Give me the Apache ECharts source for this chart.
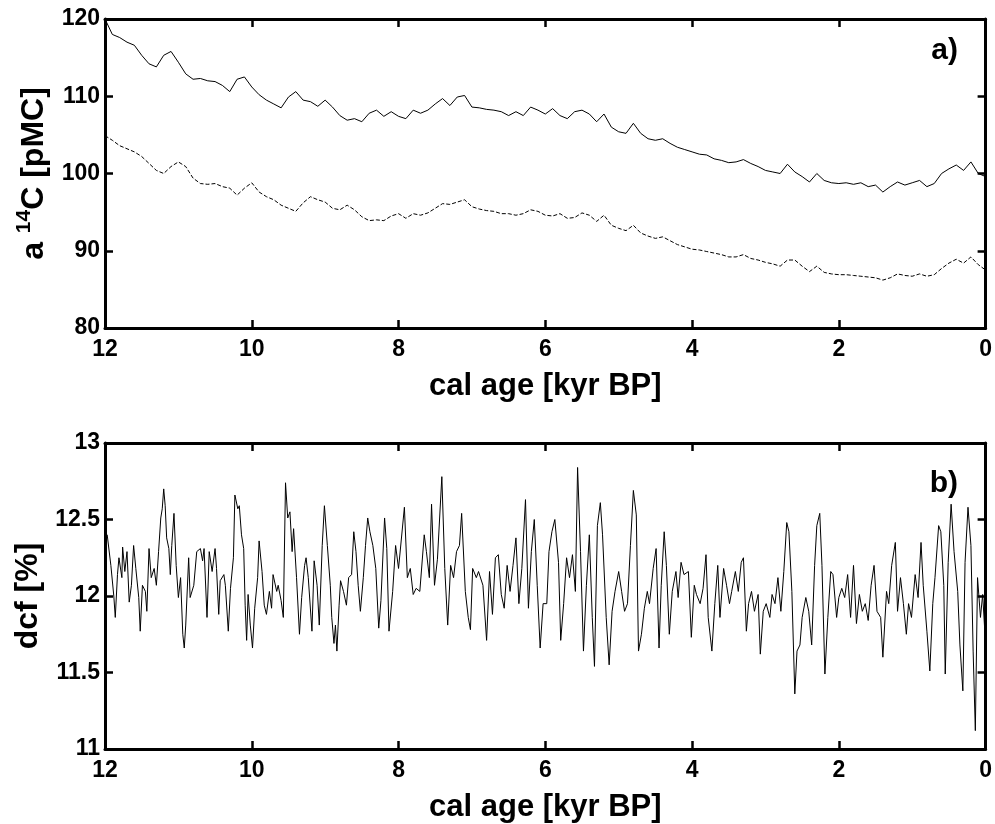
<!DOCTYPE html>
<html>
<head>
<meta charset="utf-8">
<script src="https://cdn.jsdelivr.net/npm/echarts@6/dist/echarts.min.js"></script>
<style>
html, body { margin: 0; padding: 0; background: #fff; }
#main { width: 995px; height: 824px; }
</style>
</head>
<body>
<div id="main"></div>
<script>
// panel a) : 14C activity, solid and dashed curve, 0.1 kyr steps
var ageA = [12.0,11.9,11.8,11.7,11.6,11.5,11.4,11.3,11.2,11.1,
            11.0,10.9,10.8,10.7,10.6,10.5,10.4,10.3,10.2,10.1,
            10.0,9.9,9.8,9.7,9.6,9.5,9.4,9.3,9.2,9.1,
            9.0,8.9,8.8,8.7,8.6,8.5,8.4,8.3,8.2,8.1,
            8.0,7.9,7.8,7.7,7.6,7.5,7.4,7.3,7.2,7.1,
            7.0,6.9,6.8,6.7,6.6,6.5,6.4,6.3,6.2,6.1,
            6.0,5.9,5.8,5.7,5.6,5.5,5.4,5.3,5.2,5.1,
            5.0,4.9,4.8,4.7,4.6,4.5,4.4,4.3,4.2,4.1,
            4.0,3.9,3.8,3.7,3.6,3.5,3.4,3.3,3.2,3.1,
            3.0,2.9,2.8,2.7,2.6,2.5,2.4,2.3,2.2,2.1,
            2.0,1.9,1.8,1.7,1.6,1.5,1.4,1.3,1.2,1.1,
            1.0,0.9,0.8,0.7,0.6,0.5,0.4,0.3,0.2,0.1,0.0];
var pmcSolid = [120,118,117.6,117,116.6,115.3,114.2,113.8,115.3,115.8,
                114.4,112.9,112.2,112.3,112,111.9,111.4,110.6,112.2,112.5,
                111.2,110.2,109.5,109,108.5,109.9,110.6,109.5,109.3,108.7,
                109.5,108.6,107.5,106.9,107.1,106.7,107.8,108.2,107.4,108,
                107.4,107.1,108.2,107.8,108.2,109,109.7,108.8,109.9,110.1,
                108.6,108.5,108.3,108.2,108,107.5,108,107.5,108.6,108.2,
                107.7,108.4,107.5,107.1,108,108.2,107.7,106.7,107.7,106,
                105.4,105.2,106.5,105.2,104.5,104.3,104.5,103.9,103.4,103.1,
                102.8,102.5,102.4,101.9,101.7,101.4,101.5,101.8,101.3,100.9,
                100.4,100.2,100,101.2,100.2,99.6,98.9,100,99.1,98.8,
                98.7,98.8,98.6,98.8,98.3,98.5,97.6,98.3,98.9,98.5,
                98.8,99.1,98.3,98.7,100,100.6,101.1,100.4,101.5,100,99.6];
var pmcDashed = [104.9,104.3,103.6,103.2,102.8,102.2,101.3,100.4,100,100.9,
                 101.5,100.9,99.4,98.7,98.6,98.7,98.3,98.1,97.2,98.1,
                 98.8,97.6,97,96.6,95.9,95.5,95.1,96.2,97,96.6,
                 96.3,95.5,95.3,95.9,95.3,94.4,93.9,94,93.9,94.5,
                 94.8,94.2,94.8,94.6,94.9,95.5,96.1,96,96.3,96.6,
                 95.7,95.4,95.2,95.1,94.8,94.8,94.6,94.8,95.3,95.1,
                 94.6,94.5,94.8,94.2,94.3,94.9,94.6,93.8,94.6,93.3,
                 92.9,92.6,93.3,92.3,91.9,91.6,91.8,91.3,90.8,90.5,
                 90.2,90.1,89.9,89.7,89.5,89.2,89.2,89.5,89,88.8,
                 88.5,88.3,88,88.8,88.8,88,87.3,88,87.2,87,
                 86.9,86.9,86.8,86.7,86.6,86.5,86.2,86.5,87,86.8,
                 86.7,87,86.7,86.9,87.7,88.4,88.9,88.4,89.2,88.2,87.5];

// panel b) : dcf
var dcfAge = [12.00,11.97,11.92,11.88,11.86,11.83,11.81,11.77,11.76,11.73,11.70,11.67,11.64,11.61,11.58,11.54,11.52,11.49,11.45,11.43,
              11.40,11.37,11.33,11.30,11.27,11.24,11.22,11.20,11.18,11.16,11.13,11.11,11.09,11.06,11.03,11.00,10.97,10.94,10.92,10.90,
              10.86,10.84,10.79,10.75,10.70,10.67,10.65,10.61,10.58,10.54,10.50,10.48,10.45,10.43,10.38,10.36,10.32,10.29,10.25,10.23,
              10.19,10.17,10.14,10.11,10.09,10.07,10.05,10.02,9.99,9.96,9.92,9.90,9.86,9.83,9.80,9.76,9.73,9.71,9.66,9.64,
              9.60,9.57,9.54,9.51,9.48,9.45,9.43,9.39,9.35,9.32,9.28,9.26,9.23,9.18,9.15,9.11,9.08,9.04,9.01,8.97,
              8.93,8.91,8.88,8.86,8.84,8.81,8.79,8.75,8.71,8.68,8.64,8.61,8.58,8.55,8.52,8.48,8.45,8.42,8.39,8.35,
              8.31,8.27,8.24,8.19,8.16,8.13,8.08,8.04,
              8.00,7.92,7.88,7.84,7.80,7.76,7.71,7.65,7.62,7.58,7.55,7.51,7.47,7.41,7.37,7.33,7.29,7.25,7.21,7.17,
              7.14,7.09,7.05,7.02,6.99,6.94,6.91,6.85,6.80,6.76,6.72,6.68,6.64,6.60,6.56,6.52,6.48,6.44,6.40,6.36,
              6.32,6.27,6.23,6.19,6.15,6.11,6.07,6.03,5.98,5.95,5.91,5.87,5.82,5.79,5.75,5.71,5.67,5.63,5.59,5.56,
              5.52,5.48,5.44,5.40,5.36,5.33,5.29,5.25,5.22,5.17,5.13,5.09,5.05,5.00,4.96,4.92,4.88,4.84,4.80,4.76,
              4.73,4.69,4.65,4.61,4.58,4.53,4.49,4.45,4.42,4.38,4.35,4.31,4.27,4.22,4.19,4.15,4.11,4.05,4.01,3.97,
              3.94,3.89,3.85,3.81,3.78,3.73,3.69,3.65,3.62,3.57,3.53,3.49,3.46,3.41,3.37,3.33,3.30,3.26,3.23,3.19,
              3.15,3.10,3.07,3.03,2.99,2.94,2.91,2.87,2.83,2.79,2.75,2.71,2.68,2.64,2.60,2.57,2.53,2.50,2.45,2.41,
              2.37,2.33,2.30,2.26,2.23,2.19,2.15,2.11,2.08,2.03,2.00,1.96,1.92,1.88,1.84,1.80,1.76,1.72,1.68,1.64,
              1.60,1.56,1.52,1.48,1.43,1.40,1.35,1.32,1.28,1.23,1.20,1.16,1.12,1.08,1.05,1.01,0.96,0.92,0.88,0.85,
              0.80,0.76,0.72,0.69,0.64,0.61,0.57,0.55,0.51,0.47,0.43,0.38,0.35,0.31,0.28,0.24,0.20,0.17,0.14,0.11,
              0.07,0.04,0.00];
var dcfValue = [12.41,12.40,12.2,12.0,11.86,12.14,12.25,12.12,12.32,12.16,12.29,11.96,12.07,12.33,12.18,11.99,11.77,12.07,12.03,11.9,
                12.31,12.12,12.18,12.07,12.29,12.51,12.57,12.70,12.59,12.38,12.31,12.14,12.33,12.54,12.2,11.99,12.12,11.75,11.66,11.81,
                12.25,11.99,12.07,12.29,12.31,12.23,12.31,11.86,12.29,12.16,12.31,12.18,11.88,12.10,12.14,12.07,11.77,12.05,12.25,12.66,
                12.57,12.59,12.4,12.31,11.94,11.71,12.01,11.81,11.66,11.92,12.12,12.36,12.16,11.94,11.88,12.03,11.92,12.14,12.03,12.07,
                11.97,11.86,12.74,12.51,12.55,12.29,12.44,12.12,11.75,11.99,12.2,12.25,12.12,11.77,12.23,12.07,11.81,12.33,12.59,12.33,
                12.07,11.86,11.69,11.81,11.64,11.94,12.10,12.03,11.94,12.12,12.14,12.42,12.29,12.07,11.9,12.12,12.33,12.51,12.42,12.33,
                12.18,11.79,11.97,12.51,12.31,11.77,12.03,12.33,
                12.18,12.58,12.12,12.18,12.01,12.05,12.03,12.4,12.29,12.12,12.6,12.07,12.24,12.78,12.18,11.81,12.2,12.12,12.29,12.33,
                12.54,12.03,11.86,11.78,12.18,12.12,12.16,12.07,11.71,12.16,11.88,12.25,12.27,12.01,11.92,12.2,12.03,12.2,12.38,11.95,
                12.18,12.63,11.92,12.29,12.5,12.07,11.66,11.95,11.95,12.29,12.42,12.5,12.22,11.71,11.95,12.25,12.12,12.27,12.03,12.84,
                12.29,11.64,12.07,12.4,11.86,11.54,12.46,12.61,12.4,11.86,11.55,11.9,12.03,12.16,12.03,11.9,11.95,12.33,12.69,12.53,
                11.64,11.75,11.92,12.03,11.95,12.18,12.31,11.66,12.07,12.42,12.2,11.75,12.03,12.16,11.99,12.22,12.14,12.16,11.73,12.07,
                12.01,11.95,12.05,12.27,11.86,11.64,11.95,12.2,11.86,12.18,12.07,11.95,12.03,12.16,12.03,12.22,12.25,11.77,11.95,12.03,
                11.9,12.01,11.62,11.9,11.95,11.86,12.01,11.95,12.12,11.9,12.16,12.48,12.42,12.03,11.36,11.64,11.68,11.86,11.99,11.9,
                11.68,12.2,12.46,12.54,12.2,11.49,11.86,12.16,12.14,11.86,11.99,12.05,11.99,12.14,11.86,12.2,11.82,12.01,11.9,11.95,
                11.84,12.07,12.2,11.9,11.86,11.6,12.03,11.95,12.2,12.35,11.9,12.12,11.95,11.75,11.95,11.86,12.14,11.99,12.35,12.07,
                11.77,11.51,11.95,12.12,12.46,12.42,12.07,11.49,12.22,12.6,12.29,12.03,11.68,11.38,12.22,12.58,12.33,11.64,11.12,12.12,
                11.86,12.01,11.68];

var xTicks = [12, 10, 8, 6, 4, 2, 0];
var yTicksA = [80, 90, 100, 110, 120];
var yTicksB = [11, 11.5, 12, 12.5, 13];

var FONT = '"Liberation Sans", Arial, Helvetica, sans-serif';

function pairs(xs, ys) {
  return xs.map(function (x, i) { return [x, ys[i]]; });
}

function xAxisCfg(grid, pos, name) {
  return {
    gridIndex: grid, type: 'value', position: pos, inverse: true,
    min: xTicks[xTicks.length - 1], max: xTicks[0], interval: 2,
    axisLine: { show: true, onZero: false, lineStyle: { color: '#000', width: 3 } },
    axisTick: { show: true, inside: true, length: 8, lineStyle: { color: '#000', width: 2.5 } },
    axisLabel: { show: pos === 'bottom', color: '#000', fontSize: 23, fontWeight: 'bold', fontFamily: FONT, margin: 10 },
    splitLine: { show: false },
    name: name, nameLocation: 'middle', nameGap: 43,
    nameTextStyle: { color: '#000', fontSize: 31, fontWeight: 'bold', fontFamily: FONT }
  };
}

function yAxisCfg(grid, pos, ticks, step, name, gap, rich) {
  return {
    gridIndex: grid, type: 'value', position: pos,
    min: ticks[0], max: ticks[ticks.length - 1], interval: step,
    axisLine: { show: true, onZero: false, lineStyle: { color: '#000', width: 3 } },
    axisTick: { show: true, inside: true, length: 8, lineStyle: { color: '#000', width: 2.5 } },
    axisLabel: { show: pos === 'left', color: '#000', fontSize: 23, fontWeight: 'bold', fontFamily: FONT, margin: 5 },
    splitLine: { show: false },
    name: name, nameLocation: 'middle', nameGap: gap, nameRotate: 90,
    nameTextStyle: { color: '#000', fontSize: 32, fontWeight: 'bold', fontFamily: FONT, rich: rich }
  };
}

var richA = {
  n: { fontSize: 32, fontWeight: 'bold', fontFamily: FONT, color: '#000', verticalAlign: 'bottom', lineHeight: 36 },
  s: { fontSize: 21, fontWeight: 'bold', fontFamily: FONT, color: '#000', verticalAlign: 'top', lineHeight: 36 }
};

var chart = echarts.init(document.getElementById('main'));
chart.setOption({
  animation: false,
  backgroundColor: '#fff',
  grid: [
    { left: 105, right: 5, top: 19, height: 309 },
    { left: 105, right: 5, top: 443, height: 309 }
  ],
  xAxis: [
    xAxisCfg(0, 'bottom', 'cal age [kyr BP]'),
    xAxisCfg(0, 'top', ''),
    xAxisCfg(1, 'bottom', 'cal age [kyr BP]'),
    xAxisCfg(1, 'top', '')
  ],
  yAxis: [
    yAxisCfg(0, 'left', yTicksA, 10, '{n|a }{s|14}{n|C [pMC]}', 55, richA),
    yAxisCfg(0, 'right', yTicksA, 10, '', 55, null),
    yAxisCfg(1, 'left', yTicksB, 0.5, 'dcf [%]', 60, null),
    yAxisCfg(1, 'right', yTicksB, 0.5, '', 55, null)
  ],
  series: [
    { type: 'line', xAxisIndex: 0, yAxisIndex: 0, data: pairs(ageA, pmcSolid), showSymbol: false,
      lineStyle: { color: '#000', width: 1 } },
    { type: 'line', xAxisIndex: 0, yAxisIndex: 0, data: pairs(ageA, pmcDashed), showSymbol: false,
      lineStyle: { color: '#000', width: 1, type: [4, 2] } },
    { type: 'line', xAxisIndex: 2, yAxisIndex: 2, data: pairs(dcfAge, dcfValue), showSymbol: false,
      lineStyle: { color: '#000', width: 1 } }
  ],
  graphic: [
    { type: 'text', right: 37, top: 36, style: { text: 'a)', fontSize: 30, fontWeight: 'bold', fontFamily: FONT, fill: '#000' } },
    { type: 'text', right: 37, top: 469, style: { text: 'b)', fontSize: 30, fontWeight: 'bold', fontFamily: FONT, fill: '#000' } }
  ]
});
</script>
</body>
</html>
